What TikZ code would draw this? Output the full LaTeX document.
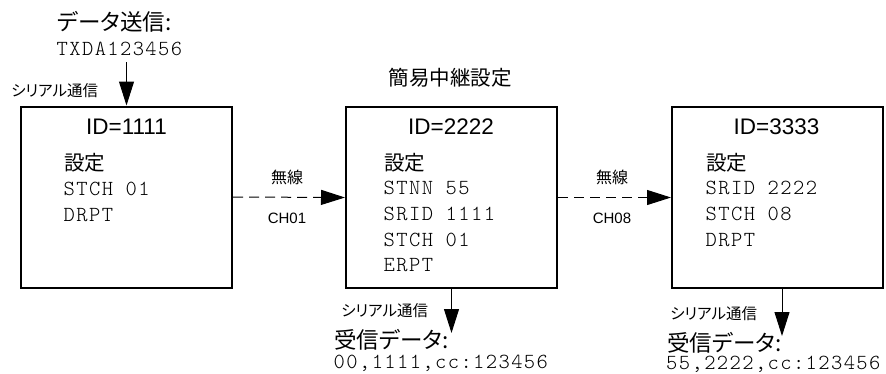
\documentclass[tikz,border=0pt]{standalone}
\usepackage{fontspec}
\usetikzlibrary{arrows.meta}
\newfontfamily\jp{Noto Sans CJK JP}[RawFeature=+palt]
\newfontfamily\sansf{Liberation Sans}
\newfontfamily\monof{lmmonolt10-regular.otf}[LetterSpace=6.5]
\begin{document}
\begin{tikzpicture}[x=1pt,y=-1pt,
  box/.style={draw, line width=2pt, minimum width=211pt, minimum height=181pt, inner sep=0pt},
  txt/.style={inner sep=0pt, anchor=base west},
  jpbig/.style={txt, font=\jp\fontsize{22.5}{22.5}\selectfont},
  jpset/.style={txt, font=\jp\fontsize{20.5}{20.5}\selectfont},
  jpsmall/.style={txt, font=\jp\fontsize{15.5}{15.5}\selectfont},
  mono/.style={txt, font=\monof\fontsize{21.5}{21.5}\selectfont},
  idtxt/.style={inner sep=0pt, anchor=base, font=\sansf\fontsize{22.5}{22.5}\selectfont},
  wl/.style={inner sep=0pt, anchor=base, font=\jp\fontsize{16}{16}\selectfont},
  chl/.style={inner sep=0pt, anchor=base, font=\sansf\fontsize{15}{15}\selectfont},
  arr/.style={line width=1pt, -{Triangle[length=24pt,width=15pt]}},
  darr/.style={arr, dash pattern=on 10pt off 6pt}
]
\useasboundingbox (0,0) rectangle (886,373);

% boxes
\node[box] (b1) at (126.5,197) {};
\node[box] (b2) at (451.5,197.5) {};
\node[box] (b3) at (777.5,197.5) {};

% top input
\node[jpbig] (send) at (57,30.5) {データ送信:};
\node[mono] (tx) at (56.5,55) {TXDA123456};
\coordinate (a0) at (126.5,62);
\draw[arr] (a0) -- (b1.north);
\node[jpsmall] (ser1) at (11,96) {シリアル通信};

% title over box 2
\node[inner sep=0pt, anchor=base, font=\jp\fontsize{20.5}{20.5}\selectfont] (relay) at (450,85) {簡易中継設定};

% box 1 content
\node[idtxt] (id1) at (126.5,134) {ID=1111};
\node[jpset] (set1) at (64,170) {設定};
\node[mono] (l11) at (63.5,195) {STCH 01};
\node[mono] (l12) at (63.5,221) {DRPT};

% box 2 content
\node[idtxt] (id2) at (451,134) {ID=2222};
\node[jpset] (set2) at (384,170.5) {設定};
\node[mono] (l21) at (383.5,194) {STNN 55};
\node[mono] (l22) at (383.5,220) {SRID 1111};
\node[mono] (l23) at (383.5,246) {STCH 01};
\node[mono] (l24) at (383.5,271) {ERPT};

% box 3 content
\node[idtxt] (id3) at (776.5,134) {ID=3333};
\node[jpset] (set3) at (706,170.5) {設定};
\node[mono] (l31) at (705.5,194) {SRID 2222};
\node[mono] (l32) at (705.5,220) {STCH 08};
\node[mono] (l33) at (705.5,246) {DRPT};

% wireless links
\draw[darr] (b1.east) -- (b2.west);
\node[wl] (w1) at (287,183) {無線};
\node[chl] (c1) at (287,223.5) {CH01};
\draw[darr] (b2.east) -- (b3.west);
\node[wl] (w2) at (612,183) {無線};
\node[chl] (c2) at (612,223.5) {CH08};

% outputs
\coordinate (r2) at (451.5,333);
\draw[arr] (b2.south) -- (r2);
\node[jpsmall] (ser2) at (341,316) {シリアル通信};
\node[jpbig] (rcv2) at (334,348.5) {受信データ:};
\node[mono] (out2) at (333.5,368.5) {00,1111,cc:123456};

\coordinate (r3) at (782,336);
\draw[arr] (r3 |- b3.south) -- (r3);
\node[jpsmall] (ser3) at (670,319) {シリアル通信};
\node[jpbig] (rcv3) at (667,351.5) {受信データ:};
\node[mono] (out3) at (666,369) {55,2222,cc:123456};
\end{tikzpicture}
\end{document}
